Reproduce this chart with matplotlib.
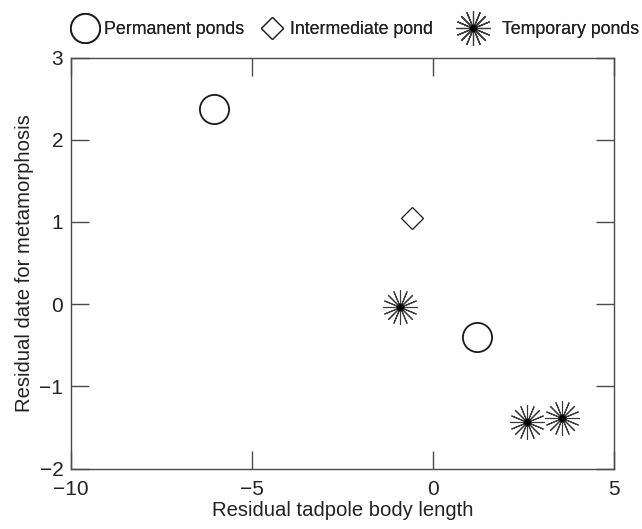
import matplotlib
matplotlib.use("Agg")
import matplotlib.pyplot as plt
from matplotlib.lines import Line2D

plt.rcParams['font.family'] = ['Liberation Sans', 'DejaVu Sans']

# pond groups
perm_x = [-6.04, 1.21]
perm_y = [2.37, -0.40]
inter_x = [-0.57]
inter_y = [1.05]
temp_x = [-0.90, 2.61, 3.56]
temp_y = [-0.04, -1.44, -1.38]

xticks = [-10, -5, 0, 5]
yticks = [-2, -1, 0, 1, 2, 3]

fig = plt.figure(figsize=(6.42, 5.29), dpi=100)
ax = fig.add_axes([71/642, 1 - 468.5/529, (614 - 71)/642, (468.5 - 57.5)/529])

frame = '#4a4a4a'
ink = '#222222'

circ, = ax.plot(perm_x, perm_y, ls='none', marker='o', ms=21, mfc='white',
                mec='#1a1a1a', mew=1.3)
diam, = ax.plot(inter_x, inter_y, ls='none', marker='D', ms=11, mfc='white',
                mec='#1a1a1a', mew=0.9)
star, = ax.plot(temp_x, temp_y, ls='none', marker=(16, 2, 0), ms=25,
                mec='#3a3a3a', mew=0.8)
dot, = ax.plot(temp_x, temp_y, ls='none', marker='o', ms=4, mfc='black', mec='black')

ax.set_xlim(-10, 5)
ax.set_ylim(-2, 3)
ax.set_xticks(xticks)
ax.set_yticks(yticks)
ax.tick_params(direction='in', length=13, width=1, colors=frame, labelcolor=ink,
               labelsize=15, top=True, right=True)
ax.tick_params(axis='x', pad=8)
ax.tick_params(axis='y', pad=5.5)
for s in ax.spines.values():
    s.set_color(frame)
    s.set_linewidth(1.0)

ax.set_xlabel('Residual tadpole body length', fontsize=14.6, color=ink, labelpad=2)
ax.set_ylabel('Residual date for metamorphosis', fontsize=14.6, color=ink, labelpad=4)

# legend: one entry per block so the gaps follow the reference
entries = [
    (circ, 'Permanent ponds', 70, 1.64, 0.28),
    (diam, 'Intermediate pond', 257.5, 1.64, 0.2),
    ((star, dot), 'Temporary ponds', 455, 2.03, 0.62),
]
for handle, text, left, hlen, pad in entries:
    leg = fig.legend([handle], [text], loc='center left',
                     bbox_to_anchor=(left/642, 1 - 29.5/529), frameon=False,
                     fontsize=12.8, handlelength=hlen, handletextpad=pad,
                     borderpad=0, borderaxespad=0, labelcolor=ink)
    fig.add_artist(leg)

fig.savefig('out.png', dpi=100)
